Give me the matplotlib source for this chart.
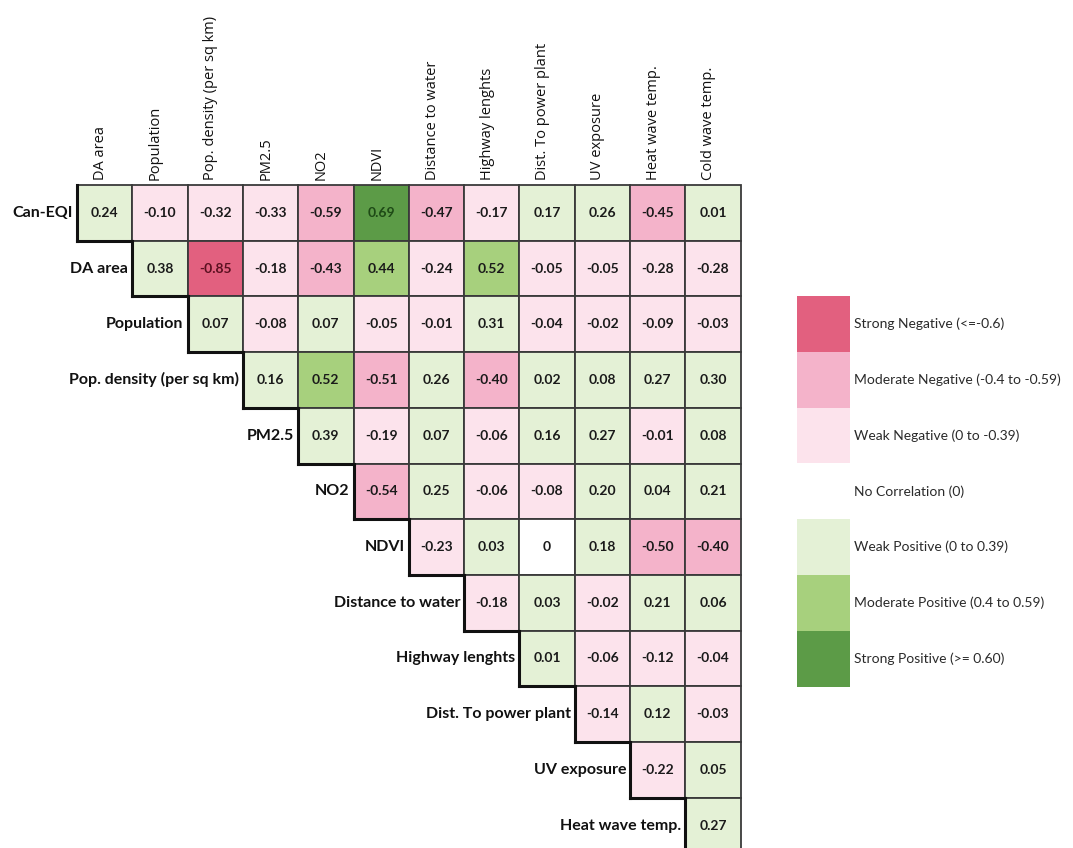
import matplotlib.pyplot as plt
from matplotlib.patches import Rectangle

col_labels = ['DA area', 'Population', 'Pop. density (per sq km)', 'PM2.5', 'NO2', 'NDVI',
              'Distance to water', 'Highway lenghts', 'Dist. To power plant', 'UV exposure',
              'Heat wave temp.', 'Cold wave temp.']
row_labels = ['Can-EQI', 'DA area', 'Population', 'Pop. density (per sq km)', 'PM2.5', 'NO2',
              'NDVI', 'Distance to water', 'Highway lenghts', 'Dist. To power plant',
              'UV exposure', 'Heat wave temp.']

# upper triangle, row i starts at column i
r_can_eqi = [0.24, -0.10, -0.32, -0.33, -0.59, 0.69, -0.47, -0.17, 0.17, 0.26, -0.45, 0.01]
r_da_area = [0.38, -0.85, -0.18, -0.43, 0.44, -0.24, 0.52, -0.05, -0.05, -0.28, -0.28]
r_population = [0.07, -0.08, 0.07, -0.05, -0.01, 0.31, -0.04, -0.02, -0.09, -0.03]
r_pop_density = [0.16, 0.52, -0.51, 0.26, -0.40, 0.02, 0.08, 0.27, 0.30]
r_pm25 = [0.39, -0.19, 0.07, -0.06, 0.16, 0.27, -0.01, 0.08]
r_no2 = [-0.54, 0.25, -0.06, -0.08, 0.20, 0.04, 0.21]
r_ndvi = [-0.23, 0.03, 0, 0.18, -0.50, -0.40]
r_dist_water = [-0.18, 0.03, -0.02, 0.21, 0.06]
r_highway = [0.01, -0.06, -0.12, -0.04]
r_power_plant = [-0.14, 0.12, -0.03]
r_uv = [-0.22, 0.05]
r_heat_wave = [0.27]
rows = [r_can_eqi, r_da_area, r_population, r_pop_density, r_pm25, r_no2, r_ndvi,
        r_dist_water, r_highway, r_power_plant, r_uv, r_heat_wave]

legend_labels = ['Strong Negative (<=-0.6)', 'Moderate Negative (-0.4 to -0.59)',
                 'Weak Negative (0 to -0.39)', 'No Correlation (0)', 'Weak Positive (0 to 0.39)',
                 'Moderate Positive (0.4 to 0.59)', 'Strong Positive (>= 0.60)']
legend_colors = ['#e2607f', '#f4b3ca', '#fce3ec', '#ffffff', '#e4f1d6', '#a7d07d', '#5c9b47']
text_colors = ['#5a1020', '#1a1a1a', '#1a1a1a', '#1a1a1a', '#1a1a1a', '#1a1a1a', '#1e4a16']


def bucket(v):
    if v <= -0.6:
        return 0
    if v <= -0.4:
        return 1
    if v < 0:
        return 2
    if v == 0:
        return 3
    if v < 0.4:
        return 4
    if v < 0.6:
        return 5
    return 6


def fmt(v):
    return '0' if v == 0 else f'{v:.2f}'


fig = plt.figure(figsize=(10.73, 8.48), dpi=100)
ax = fig.add_axes([0, 0, 1, 1])
ax.set_xlim(0, 1073)
ax.set_ylim(848, 0)
ax.axis('off')

x0, y0 = 77, 185
cw, ch = 55.3, 55.7
cell_font = 'Lato'
head_font = 'Open Sans'

for j, lab in enumerate(col_labels):
    ax.text(x0 + (j + 0.42) * cw, y0 - 5, lab, rotation=90, ha='center', va='bottom',
            fontsize=10.5, family=head_font, color='#111111')

for i, vals in enumerate(rows):
    ty = y0 + (i + 0.5) * ch
    ax.text(x0 + i * cw - 4, ty, row_labels[i], ha='right', va='center',
            fontsize=11.5, family=cell_font, fontweight='bold', color='#111111')
    for k, v in enumerate(vals):
        j = i + k
        b = bucket(v)
        ax.add_patch(Rectangle((x0 + j * cw, y0 + i * ch), cw, ch,
                               facecolor=legend_colors[b], edgecolor='#3a3a3a', lw=1.3))
        ax.text(x0 + (j + 0.5) * cw, ty, fmt(v), ha='center', va='center',
                fontsize=10, family=cell_font, fontweight='bold', color=text_colors[b])
    # staircase outline: left and bottom edge of each row
    xl = x0 + i * cw
    ax.plot([xl, xl], [y0 + i * ch, y0 + (i + 1) * ch], color='#111111', lw=2.2)
    ax.plot([xl, xl + cw], [y0 + (i + 1) * ch, y0 + (i + 1) * ch], color='#111111', lw=2.2)

# legend swatches
lx, ly = 797, 296
lw_, lh = 53, 55.8
for k, (lab, col) in enumerate(zip(legend_labels, legend_colors)):
    ax.add_patch(Rectangle((lx, ly + k * lh), lw_, lh, facecolor=col, edgecolor='none'))
    ax.text(lx + lw_ + 4, ly + (k + 0.5) * lh, lab, ha='left', va='center',
            fontsize=10, family=cell_font, color='#2a2a2a')

fig.savefig('out.png', dpi=100)
